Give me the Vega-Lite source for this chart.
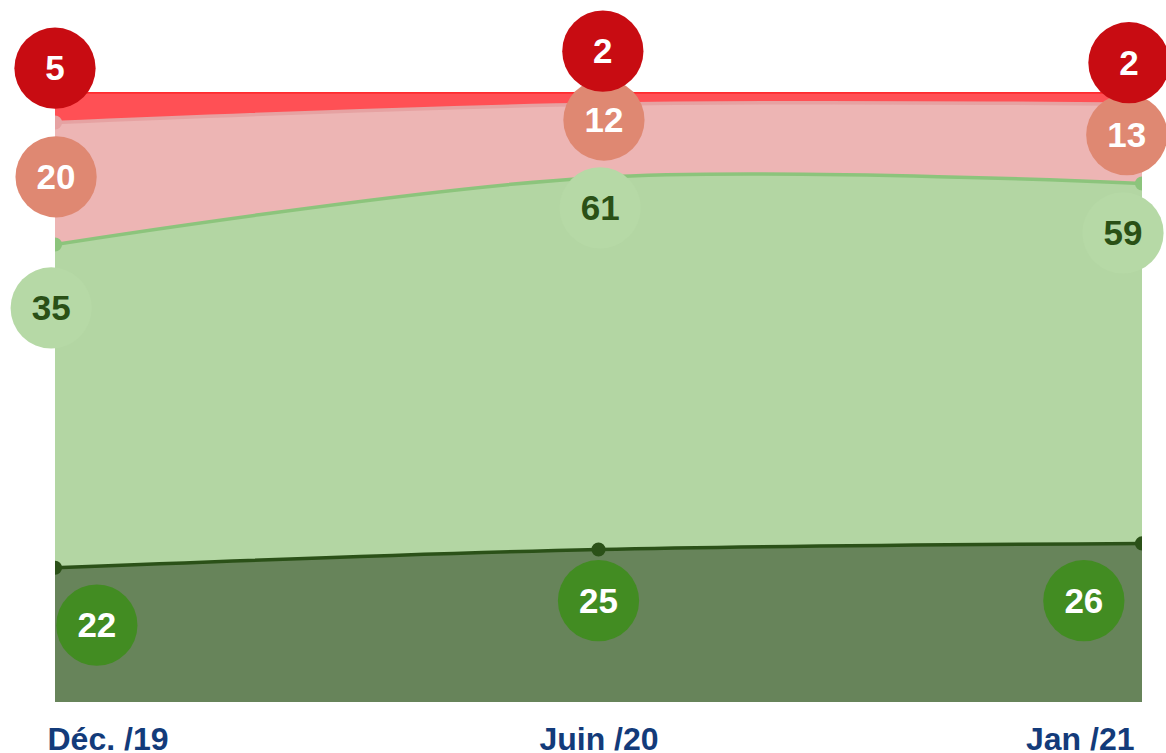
{
  "$schema": "https://vega.github.io/schema/vega-lite/v6.json",
  "width": 1087,
  "height": 610,
  "autosize": {"type": "none"},
  "padding": {"left": 55, "top": 92, "right": 24, "bottom": 51},
  "background": "white",
  "config": {"view": {"stroke": null}, "font": "Liberation Sans"},
  "data": {
    "values": [
      {"period": "Déc. /19", "series": "Tout à fait", "value": 22, "label": "22"},
      {"period": "Déc. /19", "series": "Plutôt", "value": 53, "label": "35"},
      {"period": "Déc. /19", "series": "Plutôt pas", "value": 20, "label": "20"},
      {"period": "Déc. /19", "series": "Pas du tout", "value": 5, "label": "5"},
      {"period": "Juin /20", "series": "Tout à fait", "value": 25, "label": "25"},
      {"period": "Juin /20", "series": "Plutôt", "value": 61, "label": "61"},
      {"period": "Juin /20", "series": "Plutôt pas", "value": 12, "label": "12"},
      {"period": "Juin /20", "series": "Pas du tout", "value": 2, "label": "2"},
      {"period": "Jan /21", "series": "Tout à fait", "value": 26, "label": "26"},
      {"period": "Jan /21", "series": "Plutôt", "value": 59, "label": "59"},
      {"period": "Jan /21", "series": "Plutôt pas", "value": 13, "label": "13"},
      {"period": "Jan /21", "series": "Pas du tout", "value": 2, "label": "2"}
    ]
  },
  "transform": [
    {"calculate": "indexof(['Déc. /19','Juin /20','Jan /21'], datum.period)", "as": "t"},
    {"calculate": "indexof(['Tout à fait','Plutôt','Plutôt pas','Pas du tout'], datum.series)", "as": "rank"},
    {"stack": "value", "groupby": ["period"], "sort": [{"field": "rank", "order": "ascending"}], "as": ["y0", "y1"]},
    {"calculate": "datum.y1 + [[-9.4,-8.4,-9.4],[-10.4,-5,-8.1],[-8.9,-2.6,-5],[3.9,6.7,4.8]][datum.rank][datum.t]", "as": "ly"},
    {"calculate": "datum.t + [[0.077,0,-0.107],[-0.007,0.003,-0.035],[0.002,0.01,-0.028],[0,0.008,-0.024]][datum.rank][datum.t]", "as": "lx"}
  ],
  "layer": [
    {
      "mark": {"type": "area", "interpolate": "cardinal", "opacity": 1},
      "encoding": {
        "x": {
          "field": "t", "type": "quantitative",
          "scale": {"domain": [0, 2], "nice": false, "zero": false},
          "axis": {
            "title": null, "grid": false, "domain": false, "ticks": false,
            "values": [0, 1, 2],
            "labelExpr": "['Déc. /19','Juin /20','Jan /21'][datum.value]",
            "labelFontSize": 32, "labelFontWeight": "bold", "labelColor": "#133b7a",
            "labelFont": "Liberation Sans",
            "labelFlush": true, "labelPadding": 22,
            "labelOffset": {"condition": {"test": "datum.value != 1", "value": -8}, "value": 0}
          }
        },
        "y": {"field": "y1", "type": "quantitative", "scale": {"domain": [0, 100], "nice": false}, "axis": null},
        "y2": {"field": "y0"},
        "color": {
          "field": "series", "type": "nominal", "legend": null,
          "scale": {"domain": ["Tout à fait", "Plutôt", "Plutôt pas", "Pas du tout"], "range": ["#67845a", "#b3d6a3", "#edb5b4", "#ff5055"]}
        }
      }
    },
    {
      "mark": {"type": "line", "interpolate": "cardinal", "strokeWidth": 3.5, "clip": true},
      "encoding": {
        "x": {"field": "t", "type": "quantitative"},
        "y": {"field": "y1", "type": "quantitative"},
        "color": {
          "field": "series", "type": "nominal", "legend": null,
          "scale": {"domain": ["Tout à fait", "Plutôt", "Plutôt pas", "Pas du tout"], "range": ["#2b5118", "#8cc47c", "#e6a2a2", "#ff2b2f"]}
        }
      }
    },
    {
      "mark": {"type": "point", "filled": true, "size": 200, "opacity": 1, "clip": true},
      "encoding": {
        "x": {"field": "t", "type": "quantitative"},
        "y": {"field": "y1", "type": "quantitative"},
        "color": {
          "field": "series", "type": "nominal", "legend": null,
          "scale": {"domain": ["Tout à fait", "Plutôt", "Plutôt pas", "Pas du tout"], "range": ["#2b5118", "#8cc47c", "#e6a2a2", "#ff2b2f"]}
        }
      }
    },
    {
      "mark": {"type": "point", "filled": true, "size": 6600, "opacity": 1},
      "encoding": {
        "x": {"field": "lx", "type": "quantitative"},
        "y": {"field": "ly", "type": "quantitative"},
        "color": {
          "field": "series", "type": "nominal", "legend": null,
          "scale": {"domain": ["Tout à fait", "Plutôt", "Plutôt pas", "Pas du tout"], "range": ["#428c22", "#b6d9a6", "#df8872", "#c80c12"]}
        }
      }
    },
    {
      "mark": {"type": "text", "fontSize": 35, "fontWeight": "bold", "align": "center", "baseline": "middle", "dy": 1, "font": "Liberation Sans"},
      "encoding": {
        "x": {"field": "lx", "type": "quantitative"},
        "y": {"field": "ly", "type": "quantitative"},
        "text": {"field": "label"},
        "color": {
          "field": "series", "type": "nominal", "legend": null,
          "scale": {"domain": ["Tout à fait", "Plutôt", "Plutôt pas", "Pas du tout"], "range": ["#ffffff", "#2a5016", "#ffffff", "#ffffff"]}
        }
      }
    }
  ],
  "resolve": {"scale": {"color": "independent"}}
}
